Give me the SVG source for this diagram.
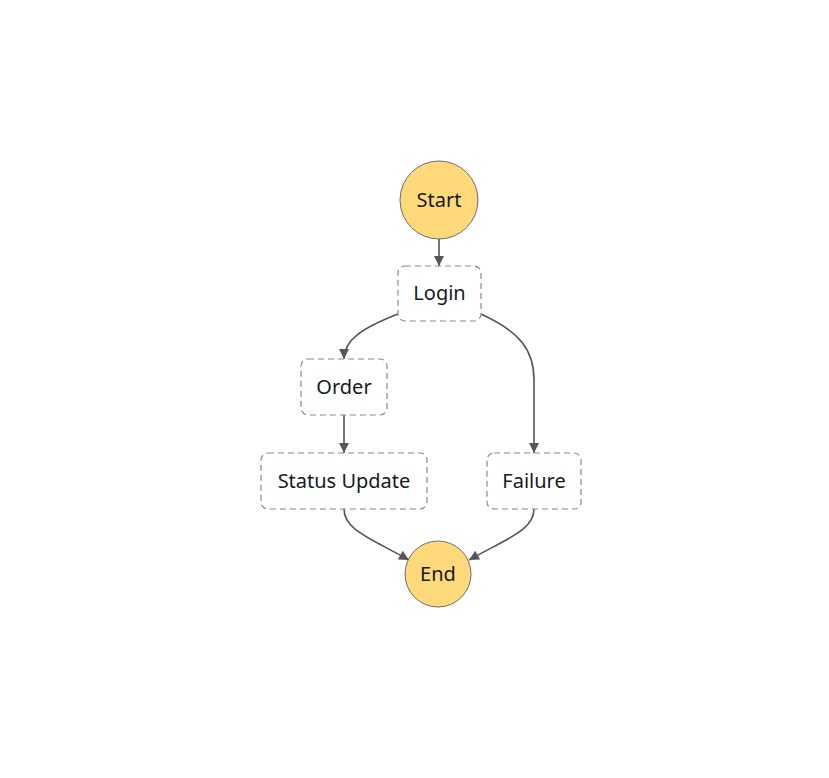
<svg xmlns="http://www.w3.org/2000/svg" width="829" height="778" viewBox="0 0 829 778">
<defs>
<style>
.state{fill:#fff;stroke:#8a8a8a;stroke-width:1.2;stroke-dasharray:6,4}
.term{fill:#ffd97a;stroke:#6b6b6b;stroke-width:1}
.lbl{font-family:"Noto Sans","Open Sans",sans-serif;font-size:20px;fill:#16191f;text-anchor:middle;dominant-baseline:central}
.edge{fill:none;stroke:#555;stroke-width:1.6}
</style>
<marker id="arr" viewBox="0 0 10 10" refX="10" refY="5" markerWidth="10" markerHeight="10" markerUnits="userSpaceOnUse" orient="auto">
<path d="M0,0 L10,5 L0,10 z" fill="#555"/>
</marker>
</defs>
<rect width="829" height="778" fill="#fff"/>
<g id="connectors">
<path class="edge" d="M439,239 L439,266" marker-end="url(#arr)"/>
<path class="edge" d="M398,314 C362,328 344,340 344,359" marker-end="url(#arr)"/>
<path class="edge" d="M344,415 L344,453" marker-end="url(#arr)"/>
<path class="edge" d="M481,314 C520,332 534,350 534,380 L534,453" marker-end="url(#arr)"/>
<path class="edge" d="M344,509 C344,530 370,538 409,560" marker-end="url(#arr)"/>
<path class="edge" d="M534,509 C534,530 508,538 469,560" marker-end="url(#arr)"/>
</g>
<g id="start"><circle class="term" cx="439" cy="200" r="39"/><text class="lbl" x="439" y="199">Start</text></g>
<g id="login"><rect class="state" x="398" y="266" width="83" height="55" rx="7"/><text class="lbl" x="439.5" y="292.5">Login</text></g>
<g id="order"><rect class="state" x="301" y="359" width="86" height="56" rx="7"/><text class="lbl" x="344" y="386">Order</text></g>
<g id="status-update"><rect class="state" x="261" y="453" width="166" height="56" rx="7"/><text class="lbl" x="344" y="480">Status Update</text></g>
<g id="failure"><rect class="state" x="487" y="453" width="94" height="56" rx="7"/><text class="lbl" x="534" y="480">Failure</text></g>
<g id="end"><circle class="term" cx="438" cy="574" r="33"/><text class="lbl" x="438" y="573">End</text></g>
</svg>
